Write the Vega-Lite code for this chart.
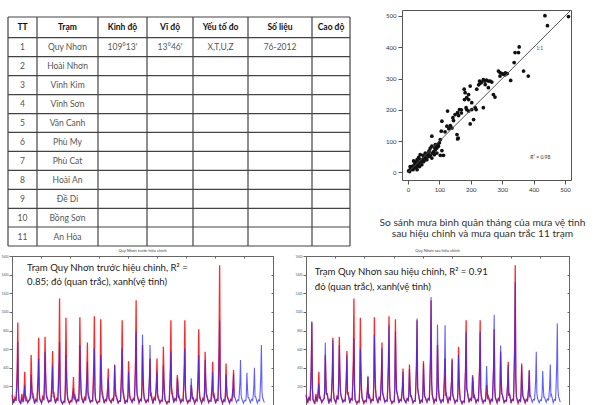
{
"$schema": "https://vega.github.io/schema/vega-lite/v6.json",
"padding": {"left": 1, "top": 9, "right": 0, "bottom": 0},
"background": "white",
"config": {"view": {"stroke": null}, "font": "Lato", "axis": {"labelFont": "Lato", "grid": false}},
"datasets": {
"vlines": [{"b":0.5},{"b":1.5},{"b":2.5},{"b":3.5},{"b":4.5},{"b":5.5},{"b":6.5},{"b":7.5}],
"hlines": [{"b":-0.5},{"b":0.5},{"b":1.5},{"b":2.5},{"b":3.5},{"b":4.5},{"b":5.5},{"b":6.5},{"b":7.5},{"b":8.5},{"b":9.5},{"b":10.5},{"b":11.5}],
"cells": [
{"r":0,"c":1,"t":"TT"},{"r":0,"c":2,"t":"Trạm"},{"r":0,"c":3,"t":"Kinh độ"},{"r":0,"c":4,"t":"Vĩ độ"},{"r":0,"c":5,"t":"Yếu tố đo"},{"r":0,"c":6,"t":"Số liệu"},{"r":0,"c":7,"t":"Cao độ"},
{"r":1,"c":1,"t":"1"},{"r":1,"c":2,"t":"Quy Nhơn"},{"r":1,"c":3,"t":"109°13'"},{"r":1,"c":4,"t":"13°46'"},{"r":1,"c":5,"t":"X,T,U,Z"},{"r":1,"c":6,"t":"76-2012"},
{"r":2,"c":1,"t":"2"},{"r":2,"c":2,"t":"Hoài Nhơn"},
{"r":3,"c":1,"t":"3"},{"r":3,"c":2,"t":"Vĩnh Kim"},
{"r":4,"c":1,"t":"4"},{"r":4,"c":2,"t":"Vĩnh Sơn"},
{"r":5,"c":1,"t":"5"},{"r":5,"c":2,"t":"Vân Canh"},
{"r":6,"c":1,"t":"6"},{"r":6,"c":2,"t":"Phù My"},
{"r":7,"c":1,"t":"7"},{"r":7,"c":2,"t":"Phù Cat"},
{"r":8,"c":1,"t":"8"},{"r":8,"c":2,"t":"Hoài An"},
{"r":9,"c":1,"t":"9"},{"r":9,"c":2,"t":"Đề Di"},
{"r":10,"c":1,"t":"10"},{"r":10,"c":2,"t":"Bồng Sơn"},
{"r":11,"c":1,"t":"11"},{"r":11,"c":2,"t":"An Hòa"}
],
"scatter": [
{"x":436,"y":501},{"x":444,"y":469},{"x":511,"y":498},{"x":354,"y":401},{"x":341,"y":383},{"x":352,"y":383},{"x":338,"y":351},{"x":368,"y":324},{"x":383,"y":308},{"x":327,"y":294},
{"x":288,"y":324},{"x":293,"y":319},{"x":299,"y":316},{"x":304,"y":314},{"x":309,"y":312},{"x":293,"y":308},{"x":262,"y":292},{"x":267,"y":289},{"x":256,"y":292},{"x":245,"y":292},
{"x":235,"y":289},{"x":228,"y":292},{"x":240,"y":297},{"x":246,"y":281},{"x":256,"y":271},{"x":272,"y":249},{"x":277,"y":241},{"x":219,"y":266},{"x":198,"y":276},{"x":179,"y":266},
{"x":182,"y":255},{"x":193,"y":249},{"x":187,"y":239},{"x":180,"y":233},{"x":193,"y":233},{"x":240,"y":207},{"x":203,"y":223},{"x":214,"y":207},{"x":217,"y":201},{"x":203,"y":201},
{"x":187,"y":201},{"x":193,"y":196},{"x":185,"y":207},{"x":164,"y":201},{"x":126,"y":196},{"x":158,"y":191},{"x":150,"y":185},{"x":143,"y":175},{"x":145,"y":166},{"x":161,"y":182},
{"x":209,"y":169},{"x":198,"y":155},{"x":156,"y":121},{"x":158,"y":107},{"x":140,"y":142},{"x":124,"y":148},{"x":108,"y":164},{"x":106,"y":132},{"x":103,"y":105},{"x":76,"y":116},
{"x":92,"y":87},{"x":87,"y":89},{"x":97,"y":84},{"x":108,"y":70},{"x":103,"y":55},{"x":113,"y":55},{"x":71,"y":78},{"x":76,"y":84},{"x":66,"y":65},{"x":55,"y":62},
{"x":60,"y":57},{"x":39,"y":57},{"x":50,"y":46},{"x":34,"y":48},{"x":29,"y":41},{"x":18,"y":37},{"x":7,"y":19},{"x":13,"y":14},{"x":23,"y":25},{"x":34,"y":30},
{"x":41,"y":35},{"x":44,"y":25},{"x":50,"y":35},{"x":55,"y":41},{"x":66,"y":51},{"x":82,"y":67},{"x":87,"y":73},{"x":92,"y":78},{"x":29,"y":25},{"x":20,"y":19},
{"x":16,"y":9},{"x":26,"y":16},{"x":37,"y":19},{"x":31,"y":33},{"x":39,"y":41},{"x":55,"y":48},{"x":71,"y":55},{"x":48,"y":55},{"x":7,"y":9},{"x":5,"y":3},
{"x":18,"y":14},{"x":29,"y":9},{"x":60,"y":41},{"x":76,"y":46},{"x":92,"y":62},{"x":84,"y":57},{"x":2,"y":5},{"x":10,"y":12},{"x":15,"y":20},{"x":22,"y":30},
{"x":27,"y":35},{"x":33,"y":22},{"x":45,"y":40},{"x":52,"y":52},{"x":63,"y":58},{"x":68,"y":70},{"x":78,"y":62},{"x":85,"y":80},{"x":95,"y":90},{"x":100,"y":95},
{"x":118,"y":130},{"x":130,"y":140},{"x":135,"y":150},{"x":170,"y":190},{"x":225,"y":280},{"x":230,"y":285},{"x":250,"y":295},{"x":310,"y":318},{"x":316,"y":316},{"x":170,"y":200},{"x":160,"y":110}
],
"ts": [
{"m":0,"o":110,"b":80,"a":100},{"m":3,"o":20,"b":30,"a":35},{"m":5,"o":80,"b":60,"a":75},{"m":7,"o":45,"b":50,"a":55},{"m":8,"o":210,"b":160,"a":200},{"m":9,"o":400,"b":300,"a":410},{"m":10,"o":886,"b":679,"a":900},{"m":11,"o":180,"b":140,"a":170},
{"m":12,"o":60,"b":45,"a":55},{"m":15,"o":10,"b":20,"a":25},{"m":17,"o":120,"b":70,"a":90},{"m":19,"o":30,"b":40,"a":45},{"m":20,"o":90,"b":60,"a":80},{"m":21,"o":180,"b":110,"a":150},{"m":22,"o":357,"b":214,"a":230},{"m":23,"o":70,"b":50,"a":65},
{"m":24,"o":90,"b":60,"a":80},{"m":27,"o":25,"b":30,"a":35},{"m":29,"o":50,"b":45,"a":55},{"m":31,"o":70,"b":55,"a":70},{"m":32,"o":140,"b":100,"a":160},{"m":33,"o":536,"b":321,"a":671},{"m":34,"o":260,"b":170,"a":300},{"m":35,"o":110,"b":80,"a":120},
{"m":36,"o":130,"b":90,"a":120},{"m":39,"o":15,"b":25,"a":30},{"m":41,"o":60,"b":50,"a":60},{"m":43,"o":40,"b":45,"a":50},{"m":44,"o":180,"b":130,"a":170},{"m":45,"o":330,"b":250,"a":320},{"m":46,"o":721,"b":500,"a":696},{"m":47,"o":150,"b":110,"a":140},
{"m":48,"o":70,"b":55,"a":65},{"m":51,"o":20,"b":25,"a":30},{"m":53,"o":90,"b":70,"a":85},{"m":55,"o":60,"b":55,"a":60},{"m":56,"o":280,"b":200,"a":250},{"m":57,"o":732,"b":571,"a":643},{"m":58,"o":350,"b":260,"a":320},{"m":59,"o":140,"b":100,"a":130},
{"m":60,"o":100,"b":75,"a":95},{"m":63,"o":30,"b":30,"a":35},{"m":65,"o":50,"b":45,"a":55},{"m":67,"o":40,"b":45,"a":50},{"m":68,"o":150,"b":110,"a":140},{"m":69,"o":300,"b":220,"a":280},{"m":70,"o":579,"b":428,"a":536},{"m":71,"o":120,"b":90,"a":115},
{"m":72,"o":140,"b":90,"a":110},{"m":75,"o":20,"b":25,"a":30},{"m":77,"o":70,"b":60,"a":65},{"m":79,"o":55,"b":50,"a":55},{"m":80,"o":260,"b":170,"a":190},{"m":81,"o":480,"b":330,"a":360},{"m":82,"o":1143,"b":679,"a":714},{"m":83,"o":230,"b":150,"a":170},
{"m":84,"o":60,"b":45,"a":55},{"m":87,"o":10,"b":20,"a":25},{"m":89,"o":40,"b":35,"a":40},{"m":91,"o":30,"b":35,"a":40},{"m":92,"o":220,"b":150,"a":170},{"m":93,"o":936,"b":536,"a":607},{"m":94,"o":420,"b":280,"a":330},{"m":95,"o":170,"b":120,"a":140},
{"m":96,"o":80,"b":60,"a":75},{"m":99,"o":15,"b":20,"a":25},{"m":101,"o":45,"b":40,"a":45},{"m":103,"o":35,"b":40,"a":40},{"m":104,"o":90,"b":70,"a":90},{"m":105,"o":150,"b":100,"a":160},{"m":106,"o":300,"b":179,"a":314},{"m":107,"o":70,"b":50,"a":70},
{"m":108,"o":120,"b":85,"a":100},{"m":111,"o":25,"b":30,"a":35},{"m":113,"o":60,"b":50,"a":60},{"m":115,"o":50,"b":45,"a":55},{"m":116,"o":240,"b":170,"a":200},{"m":117,"o":943,"b":643,"a":750},{"m":118,"o":430,"b":300,"a":350},{"m":119,"o":180,"b":130,"a":150},
{"m":120,"o":90,"b":70,"a":85},{"m":123,"o":20,"b":25,"a":30},{"m":125,"o":80,"b":65,"a":75},{"m":127,"o":60,"b":55,"a":60},{"m":128,"o":170,"b":130,"a":160},{"m":129,"o":320,"b":240,"a":300},{"m":130,"o":671,"b":464,"a":607},{"m":131,"o":140,"b":100,"a":130},
{"m":132,"o":110,"b":80,"a":100},{"m":135,"o":30,"b":30,"a":35},{"m":137,"o":50,"b":45,"a":50},{"m":139,"o":40,"b":45,"a":50},{"m":140,"o":230,"b":160,"a":210},{"m":141,"o":440,"b":300,"a":420},{"m":142,"o":954,"b":607,"a":857},{"m":143,"o":200,"b":140,"a":180},
{"m":144,"o":70,"b":55,"a":65},{"m":147,"o":15,"b":20,"a":25},{"m":149,"o":40,"b":35,"a":40},{"m":151,"o":35,"b":40,"a":40},{"m":152,"o":210,"b":150,"a":190},{"m":153,"o":921,"b":536,"a":786},{"m":154,"o":400,"b":270,"a":360},{"m":155,"o":160,"b":110,"a":150},
{"m":156,"o":130,"b":90,"a":120},{"m":159,"o":20,"b":25,"a":30},{"m":161,"o":60,"b":50,"a":55},{"m":163,"o":45,"b":45,"a":50},{"m":164,"o":110,"b":85,"a":100},{"m":165,"o":200,"b":150,"a":180},{"m":166,"o":393,"b":286,"a":357},{"m":167,"o":90,"b":70,"a":85},
{"m":168,"o":60,"b":55,"a":60},{"m":171,"o":25,"b":30,"a":30},{"m":173,"o":70,"b":60,"a":65},{"m":175,"o":50,"b":50,"a":50},{"m":176,"o":130,"b":120,"a":115},{"m":177,"o":436,"b":428,"a":386},{"m":178,"o":210,"b":200,"a":190},{"m":179,"o":100,"b":95,"a":90},
{"m":180,"o":100,"b":75,"a":95},{"m":183,"o":20,"b":25,"a":30},{"m":185,"o":45,"b":40,"a":45},{"m":187,"o":40,"b":45,"a":45},{"m":188,"o":220,"b":160,"a":210},{"m":189,"o":420,"b":300,"a":430},{"m":190,"o":911,"b":607,"a":929},{"m":191,"o":190,"b":140,"a":190},
{"m":192,"o":140,"b":100,"a":130},{"m":195,"o":15,"b":20,"a":25},{"m":197,"o":50,"b":45,"a":50},{"m":199,"o":35,"b":40,"a":40},{"m":200,"o":130,"b":100,"a":120},{"m":201,"o":471,"b":357,"a":446},{"m":202,"o":230,"b":180,"a":220},{"m":203,"o":100,"b":80,"a":95},
{"m":204,"o":80,"b":65,"a":80},{"m":207,"o":30,"b":30,"a":35},{"m":209,"o":70,"b":60,"a":65},{"m":211,"o":55,"b":50,"a":55},{"m":212,"o":260,"b":190,"a":250},{"m":213,"o":500,"b":370,"a":520},{"m":214,"o":1125,"b":786,"a":1161},{"m":215,"o":240,"b":170,"a":240},
{"m":216,"o":110,"b":100,"a":110},{"m":219,"o":20,"b":30,"a":30},{"m":221,"o":60,"b":55,"a":60},{"m":223,"o":45,"b":50,"a":50},{"m":224,"o":170,"b":200,"a":220},{"m":225,"o":643,"b":757,"a":864},{"m":226,"o":300,"b":360,"a":400},{"m":227,"o":130,"b":150,"a":170},
{"m":228,"o":70,"b":80,"a":90},{"m":231,"o":25,"b":30,"a":30},{"m":233,"o":55,"b":50,"a":55},{"m":235,"o":40,"b":45,"a":50},{"m":236,"o":140,"b":170,"a":210},{"m":237,"o":250,"b":320,"a":400},{"m":238,"o":500,"b":643,"a":857},{"m":239,"o":110,"b":140,"a":170},
{"m":240,"o":120,"b":85,"a":110},{"m":243,"o":15,"b":25,"a":30},{"m":245,"o":80,"b":65,"a":75},{"m":247,"o":60,"b":55,"a":60},{"m":248,"o":150,"b":110,"a":140},{"m":249,"o":260,"b":190,"a":240},{"m":250,"o":500,"b":357,"a":482},{"m":251,"o":120,"b":90,"a":115},
{"m":252,"o":90,"b":70,"a":85},{"m":255,"o":20,"b":25,"a":30},{"m":257,"o":50,"b":45,"a":50},{"m":259,"o":40,"b":45,"a":45},{"m":260,"o":170,"b":130,"a":150},{"m":261,"o":625,"b":428,"a":536},{"m":262,"o":290,"b":210,"a":260},{"m":263,"o":130,"b":100,"a":120},
{"m":264,"o":60,"b":50,"a":55},{"m":267,"o":10,"b":20,"a":25},{"m":269,"o":40,"b":35,"a":40},{"m":271,"o":30,"b":35,"a":35},{"m":272,"o":200,"b":150,"a":180},{"m":273,"o":410,"b":290,"a":370},{"m":274,"o":911,"b":571,"a":786},{"m":275,"o":190,"b":130,"a":170},
{"m":276,"o":150,"b":110,"a":140},{"m":279,"o":30,"b":30,"a":35},{"m":281,"o":70,"b":60,"a":65},{"m":283,"o":50,"b":50,"a":55},{"m":284,"o":100,"b":90,"a":95},{"m":285,"o":321,"b":286,"a":304},{"m":286,"o":250,"b":200,"a":230},{"m":287,"o":90,"b":80,"a":85},
{"m":288,"o":100,"b":75,"a":95},{"m":291,"o":25,"b":30,"a":30},{"m":293,"o":60,"b":50,"a":55},{"m":295,"o":45,"b":45,"a":50},{"m":296,"o":220,"b":160,"a":190},{"m":297,"o":420,"b":300,"a":380},{"m":298,"o":911,"b":607,"a":786},{"m":299,"o":190,"b":140,"a":170},
{"m":300,"o":70,"b":80,"a":100},{"m":303,"o":20,"b":25,"a":30},{"m":305,"o":50,"b":45,"a":50},{"m":307,"o":40,"b":45,"a":50},{"m":308,"o":90,"b":110,"a":150},{"m":309,"o":214,"b":286,"a":420},{"m":310,"o":150,"b":170,"a":220},{"m":311,"o":60,"b":70,"a":90},
{"m":312,"o":90,"b":70,"a":100},{"m":315,"o":15,"b":25,"a":30},{"m":317,"o":60,"b":50,"a":60},{"m":319,"o":45,"b":45,"a":50},{"m":320,"o":200,"b":150,"a":240},{"m":321,"o":380,"b":270,"a":450},{"m":322,"o":814,"b":536,"a":970},{"m":323,"o":170,"b":120,"a":200},
{"m":324,"o":80,"b":70,"a":80},{"m":327,"o":20,"b":25,"a":30},{"m":329,"o":70,"b":60,"a":65},{"m":331,"o":50,"b":50,"a":55},{"m":332,"o":160,"b":140,"a":170},{"m":333,"o":571,"b":482,"a":640},{"m":334,"o":270,"b":240,"a":300},{"m":335,"o":120,"b":110,"a":130},
{"m":336,"o":110,"b":85,"a":100},{"m":339,"o":25,"b":30,"a":30},{"m":341,"o":50,"b":45,"a":50},{"m":343,"o":40,"b":45,"a":45},{"m":344,"o":130,"b":100,"a":120},{"m":345,"o":230,"b":180,"a":210},{"m":346,"o":464,"b":357,"a":430},{"m":347,"o":100,"b":85,"a":95},
{"m":348,"o":130,"b":95,"a":120},{"m":351,"o":20,"b":25,"a":30},{"m":353,"o":60,"b":55,"a":60},{"m":355,"o":50,"b":50,"a":55},{"m":356,"o":300,"b":210,"a":280},{"m":357,"o":650,"b":440,"a":600},{"m":358,"o":1500,"b":911,"a":1320},{"m":359,"o":300,"b":200,"a":270},
{"m":360,"o":90,"b":70,"a":85},{"m":363,"o":15,"b":25,"a":30},{"m":365,"o":55,"b":50,"a":55},{"m":367,"o":40,"b":45,"a":45},{"m":368,"o":130,"b":100,"a":120},{"m":369,"o":446,"b":321,"a":420},{"m":370,"o":220,"b":170,"a":210},{"m":371,"o":100,"b":80,"a":95},
{"m":372,"o":80,"b":70,"a":80},{"m":375,"o":20,"b":25,"a":30},{"m":377,"o":60,"b":55,"a":60},{"m":379,"o":45,"b":50,"a":50},{"m":380,"o":110,"b":100,"a":110},{"m":381,"o":190,"b":170,"a":185},{"m":382,"o":375,"b":339,"a":364},{"m":383,"o":90,"b":85,"a":90},
{"m":384,"b":90,"a":100},{"m":387,"b":25,"a":30},{"m":389,"b":55,"a":60},{"m":391,"b":50,"a":55},{"m":392,"b":130,"a":150},{"m":393,"b":240,"a":280},{"m":394,"b":482,"a":571},{"m":395,"b":110,"a":130},
{"m":396,"b":70,"a":75},{"m":399,"b":20,"a":25},{"m":401,"b":50,"a":55},{"m":403,"b":45,"a":50},{"m":404,"b":110,"a":120},{"m":405,"b":346,"a":364},{"m":406,"b":180,"a":190},{"m":407,"b":80,"a":85},
{"m":408,"b":80,"a":85},{"m":411,"b":25,"a":30},{"m":413,"b":60,"a":65},{"m":415,"b":50,"a":55},{"m":416,"b":110,"a":120},{"m":417,"b":200,"a":220},{"m":418,"b":400,"a":436},{"m":419,"b":90,"a":100},
{"m":420,"b":90,"a":110},{"m":423,"b":20,"a":25},{"m":425,"b":55,"a":60},{"m":427,"b":45,"a":50},{"m":428,"b":170,"a":220},{"m":429,"b":320,"a":430},{"m":430,"b":643,"a":875},{"m":431,"b":140,"a":180},
{"m":432,"b":80,"a":95},{"m":435,"b":25,"a":30}
]
},
"spacing": 2,
"vconcat": [
{
"spacing": 52,
"bounds": "flush",
"hconcat": [
{
"width": 338, "height": 236,
"layer": [
{"data": {"name": "vlines"}, "mark": {"type": "rule", "color": "#444", "strokeWidth": 1.2},
 "encoding": {
  "x": {"field": "b", "type": "quantitative", "axis": null, "scale": {"domain": [0.5,1.5,2.5,3.5,4.5,5.5,6.5,7.5], "range": [-4,25,86,135,181,236,300,338], "zero": false, "nice": false}},
  "y": {"datum": -0.5, "type": "quantitative", "axis": null, "scale": {"domain": [-0.5,0.5,1.5,2.5,3.5,4.5,5.5,6.5,7.5,8.5,9.5,10.5,11.5], "range": [7,27.7,46.7,65.7,84.7,103.7,122.3,141.3,160.3,179.3,198.3,217,236], "zero": false, "nice": false}},
  "y2": {"datum": 11.5}}},
{"data": {"name": "hlines"}, "mark": {"type": "rule", "color": "#444", "strokeWidth": 1.2},
 "encoding": {
  "y": {"field": "b", "type": "quantitative", "axis": null},
  "x": {"datum": 0.5, "type": "quantitative", "axis": null},
  "x2": {"datum": 7.5}}},
{"data": {"name": "cells"}, "transform": [{"filter": "datum.r == 0"}],
 "mark": {"type": "text", "fontSize": 8.5, "fontWeight": "bold", "color": "#111", "font": "Lato"},
 "encoding": {"x": {"field": "c", "type": "quantitative", "axis": null}, "y": {"field": "r", "type": "quantitative", "axis": null}, "text": {"field": "t"}}},
{"data": {"name": "cells"}, "transform": [{"filter": "datum.r > 0"}],
 "mark": {"type": "text", "fontSize": 8.5, "color": "#555", "font": "Lato"},
 "encoding": {"x": {"field": "c", "type": "quantitative", "axis": null}, "y": {"field": "r", "type": "quantitative", "axis": null}, "text": {"field": "t"}}}
]
},
{
"width": 169, "height": 170,
"view": {"stroke": "#555", "strokeWidth": 1},
"title": {"text": ["So sánh mưa bình quân tháng của mưa vệ tinh", "sau hiệu chỉnh và mưa quan trắc 11 trạm"], "orient": "bottom", "fontSize": 10.2, "font": "Lato", "fontWeight": "normal", "color": "#333", "offset": 26, "lineHeight": 11, "dx": -4},
"layer": [
{"data": {"name": "scatter"}, "mark": {"type": "circle", "size": 14, "color": "#111", "opacity": 1},
 "encoding": {
  "x": {"field": "x", "type": "quantitative", "scale": {"domain": [-19, 519], "nice": false, "zero": false}, "axis": {"values": [0,100,200,300,400,500], "labelFontSize": 6, "tickSize": 4, "tickColor": "#555", "domain": false, "title": null, "labelColor": "#333", "labelPadding": 2}},
  "y": {"field": "y", "type": "quantitative", "scale": {"domain": [-24, 519], "nice": false, "zero": false}, "axis": {"values": [0,100,200,300,400,500], "labelFontSize": 6, "tickSize": 4, "tickColor": "#555", "domain": false, "title": null, "labelColor": "#333", "labelPadding": 2}}}},
{"data": {"values": [{}]}, "mark": {"type": "rule", "color": "#555", "strokeWidth": 1},
 "encoding": {"x": {"datum": 0, "type": "quantitative", "axis": {"values": [0,100,200,300,400,500], "labelFontSize": 6, "tickSize": 4, "tickColor": "#555", "domain": false, "title": null, "labelColor": "#333", "labelPadding": 2}}, "y": {"datum": 0, "type": "quantitative", "axis": {"values": [0,100,200,300,400,500], "labelFontSize": 6, "tickSize": 4, "tickColor": "#555", "domain": false, "title": null, "labelColor": "#333", "labelPadding": 2}}, "x2": {"datum": 519}, "y2": {"datum": 519}}},
{"data": {"values": [{}]}, "mark": {"type": "text", "fontSize": 5, "color": "#555", "align": "left"},
 "encoding": {"x": {"datum": 408, "type": "quantitative", "axis": {"values": [0,100,200,300,400,500], "labelFontSize": 6, "tickSize": 4, "tickColor": "#555", "domain": false, "title": null, "labelColor": "#333", "labelPadding": 2}}, "y": {"datum": 397, "type": "quantitative", "axis": {"values": [0,100,200,300,400,500], "labelFontSize": 6, "tickSize": 4, "tickColor": "#555", "domain": false, "title": null, "labelColor": "#333", "labelPadding": 2}}, "text": {"value": "1:1"}}},
{"data": {"values": [{}]}, "mark": {"type": "text", "fontSize": 5, "color": "#333"},
 "encoding": {"x": {"datum": 421, "type": "quantitative", "axis": {"values": [0,100,200,300,400,500], "labelFontSize": 6, "tickSize": 4, "tickColor": "#555", "domain": false, "title": null, "labelColor": "#333", "labelPadding": 2}}, "y": {"datum": 51, "type": "quantitative", "axis": {"values": [0,100,200,300,400,500], "labelFontSize": 6, "tickSize": 4, "tickColor": "#555", "domain": false, "title": null, "labelColor": "#333", "labelPadding": 2}}, "text": {"value": "R² = 0.98"}}}
]
}
]
},
{
"spacing": 33,
"bounds": "flush",
"hconcat": [
{
"width": 261, "height": 149,
"title": {"text": "Quy Nhơn trước hiệu chỉnh", "fontSize": 4, "fontWeight": "normal", "color": "#444", "offset": 2},
"resolve": {"axis": {"y": "independent"}},
"layer": [
{"data": {"name": "ts"}, "mark": {"type": "line", "color": "#ff1010", "strokeWidth": 1.3, "opacity": 0.9},
 "encoding": {
  "x": {"field": "m", "type": "quantitative", "scale": {"domain": [0, 450], "nice": false, "zero": false}, "axis": {"orient": "top", "values": [0,50,100,150,200,250,300,350,400,450], "labels": false, "tickSize": -2, "tickColor": "#666", "domainColor": "#666", "title": null}},
  "y": {"field": "o", "type": "quantitative", "scale": {"domain": [0, 1600], "nice": false}, "axis": {"orient": "left", "values": [200,400,600,800,1000,1200,1400,1600], "format": "d", "labelFontSize": 3, "tickSize": 3, "tickColor": "#666", "domainColor": "#666", "labelColor": "#555", "labelPadding": 1, "title": null}}}},
{"data": {"name": "ts"}, "mark": {"type": "line", "color": "#2a2aff", "strokeWidth": 1.1, "opacity": 0.75},
 "encoding": {
  "x": {"field": "m", "type": "quantitative", "axis": {"orient": "top", "values": [0,50,100,150,200,250,300,350,400,450], "labels": false, "tickSize": -2, "tickColor": "#666", "domainColor": "#666", "title": null}},
  "y": {"field": "b", "type": "quantitative", "axis": {"orient": "right", "values": [200,400,600,800,1000,1200,1400,1600], "labels": false, "tickSize": -2, "tickColor": "#666", "domainColor": "#666", "title": null}}}},
{"data": {"values": [{}]}, "mark": {"type": "text", "fontSize": 9.6, "color": "#222", "align": "left", "font": "Lato"},
 "encoding": {"x": {"datum": 26, "type": "quantitative", "axis": {"orient": "top", "values": [0,50,100,150,200,250,300,350,400,450], "labels": false, "tickSize": -2, "tickColor": "#666", "domainColor": "#666", "title": null}}, "y": {"datum": 1471, "type": "quantitative", "axis": null}, "text": {"value": "Trạm Quy Nhơn trước hiệu chỉnh, R² ="}}},
{"data": {"values": [{}]}, "mark": {"type": "text", "fontSize": 9.6, "color": "#222", "align": "left", "font": "Lato"},
 "encoding": {"x": {"datum": 26, "type": "quantitative", "axis": {"orient": "top", "values": [0,50,100,150,200,250,300,350,400,450], "labels": false, "tickSize": -2, "tickColor": "#666", "domainColor": "#666", "title": null}}, "y": {"datum": 1321, "type": "quantitative", "axis": null}, "text": {"value": "0.85; đỏ (quan trắc), xanh(vệ tinh)"}}}
]
},
{
"width": 263, "height": 149,
"title": {"text": "Quy Nhơn sau hiệu chỉnh", "fontSize": 4, "fontWeight": "normal", "color": "#444", "offset": 2},
"resolve": {"axis": {"y": "independent"}},
"layer": [
{"data": {"name": "ts"}, "mark": {"type": "line", "color": "#ff1010", "strokeWidth": 1.3, "opacity": 0.9},
 "encoding": {
  "x": {"field": "m", "type": "quantitative", "scale": {"domain": [0, 450], "nice": false, "zero": false}, "axis": {"orient": "top", "values": [0,50,100,150,200,250,300,350,400,450], "labels": false, "tickSize": -2, "tickColor": "#666", "domainColor": "#666", "title": null}},
  "y": {"field": "o", "type": "quantitative", "scale": {"domain": [0, 1600], "nice": false}, "axis": {"orient": "left", "values": [200,400,600,800,1000,1200,1400,1600], "format": "d", "labelFontSize": 3, "tickSize": 3, "tickColor": "#666", "domainColor": "#666", "labelColor": "#555", "labelPadding": 1, "title": null}}}},
{"data": {"name": "ts"}, "mark": {"type": "line", "color": "#2a2aff", "strokeWidth": 1.1, "opacity": 0.75},
 "encoding": {
  "x": {"field": "m", "type": "quantitative", "axis": {"orient": "top", "values": [0,50,100,150,200,250,300,350,400,450], "labels": false, "tickSize": -2, "tickColor": "#666", "domainColor": "#666", "title": null}},
  "y": {"field": "a", "type": "quantitative", "axis": {"orient": "right", "values": [200,400,600,800,1000,1200,1400,1600], "labels": false, "tickSize": -2, "tickColor": "#666", "domainColor": "#666", "title": null}}}},
{"data": {"values": [{}]}, "mark": {"type": "text", "fontSize": 9.6, "color": "#222", "align": "left", "font": "Lato"},
 "encoding": {"x": {"datum": 15, "type": "quantitative", "axis": {"orient": "top", "values": [0,50,100,150,200,250,300,350,400,450], "labels": false, "tickSize": -2, "tickColor": "#666", "domainColor": "#666", "title": null}}, "y": {"datum": 1428, "type": "quantitative", "axis": null}, "text": {"value": "Trạm Quy Nhơn sau hiệu chỉnh, R² = 0.91"}}},
{"data": {"values": [{}]}, "mark": {"type": "text", "fontSize": 9.6, "color": "#222", "align": "left", "font": "Lato"},
 "encoding": {"x": {"datum": 15, "type": "quantitative", "axis": {"orient": "top", "values": [0,50,100,150,200,250,300,350,400,450], "labels": false, "tickSize": -2, "tickColor": "#666", "domainColor": "#666", "title": null}}, "y": {"datum": 1267, "type": "quantitative", "axis": null}, "text": {"value": "đỏ (quan trắc), xanh(vệ tinh)"}}}
]
}
]
}
]
}
